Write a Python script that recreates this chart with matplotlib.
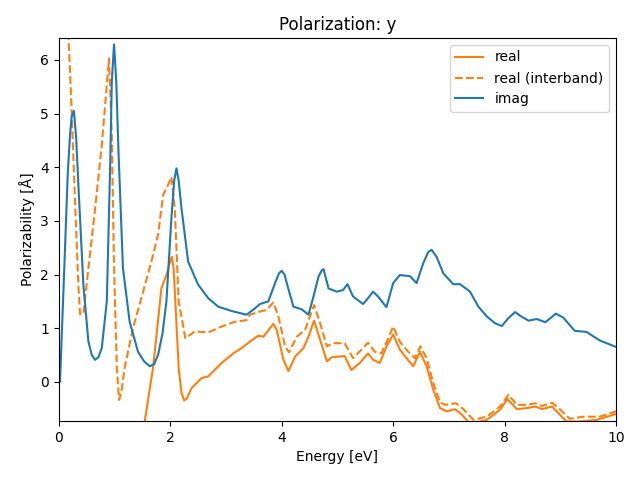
import matplotlib.pyplot as plt

# imaginary part
e_imag = [0.0, 0.02, 0.1, 0.16, 0.2, 0.23, 0.27, 0.31, 0.35, 0.44, 0.53, 0.59, 0.65, 0.71,
          0.77, 0.86, 0.92, 0.95, 0.99, 1.03, 1.07, 1.15, 1.27, 1.42, 1.53, 1.63, 1.71,
          1.78, 1.86, 1.93, 2.02, 2.07, 2.11, 2.15, 2.20, 2.32, 2.50,
          2.68, 2.86, 3.10, 3.37, 3.52, 3.61, 3.76, 3.88, 3.95, 4.00, 4.05, 4.09, 4.21, 4.36,
          4.48, 4.57, 4.66, 4.72, 4.75, 4.84, 4.99, 5.10, 5.18, 5.28, 5.46, 5.55, 5.64,
          5.73, 5.88, 6.00, 6.12, 6.30, 6.42, 6.54, 6.63, 6.69, 6.78, 6.90, 7.08, 7.20,
          7.38, 7.53, 7.68, 7.83, 7.95, 8.07, 8.19, 8.28, 8.43, 8.58, 8.73, 8.92,
          9.05, 9.26, 9.47, 9.71, 10.0]
v_imag = [0.0, 0.0, 2.2, 3.9, 4.6, 4.95, 5.05, 4.55, 3.67, 1.8, 0.75, 0.5, 0.41, 0.46,
          0.63, 1.5, 4.0, 5.6, 6.29, 5.6, 4.29, 2.12, 1.12, 0.56, 0.38, 0.29, 0.33,
          0.50, 0.9, 1.50, 3.05, 3.75, 3.98, 3.75, 3.24, 2.24, 1.81,
          1.56, 1.40, 1.32, 1.25, 1.37, 1.45, 1.50, 1.84, 2.02, 2.07, 2.0, 1.84, 1.40, 1.35,
          1.25, 1.59, 1.96, 2.08, 2.10, 1.74, 1.68, 1.71, 1.82, 1.59, 1.45, 1.56, 1.68,
          1.59, 1.39, 1.84, 1.99, 1.97, 1.84, 2.21, 2.42, 2.46, 2.33, 2.02, 1.82, 1.82,
          1.68, 1.40, 1.22, 1.09, 1.04, 1.19, 1.30, 1.23, 1.14, 1.17, 1.11, 1.27,
          1.20, 0.95, 0.93, 0.77, 0.65]

# real part
e_real = [0.05, 0.6, 1.2, 1.54, 1.69, 1.84, 1.93, 2.0, 2.03, 2.06, 2.09, 2.15, 2.20, 2.25,
          2.30, 2.38, 2.56,
          2.68, 2.92, 3.13, 3.28, 3.43, 3.58, 3.67, 3.85, 3.91, 4.03, 4.12, 4.24,
          4.39, 4.48, 4.58, 4.69, 4.81, 4.90, 5.13, 5.25, 5.40, 5.55, 5.64, 5.76,
          5.88, 6.00, 6.12, 6.24, 6.36, 6.48, 6.60, 6.72, 6.84, 6.96, 7.11, 7.23,
          7.38, 7.68, 7.92, 8.05, 8.22, 8.40, 8.55, 8.67, 8.85, 8.96, 9.11, 9.35,
          9.65, 10.0]
v_real = [-30.0, -8.0, -2.5, -0.74, 0.26, 1.74, 1.99, 2.25, 2.33, 2.1, 1.50, 0.26, -0.2, -0.35,
          -0.3, -0.12, 0.07,
          0.10, 0.35, 0.53, 0.63, 0.75, 0.86, 0.84, 1.08, 0.97, 0.41, 0.20, 0.47,
          0.63, 0.84, 1.14, 0.78, 0.38, 0.46, 0.48, 0.22, 0.35, 0.53, 0.41, 0.35,
          0.66, 0.88, 0.60, 0.44, 0.29, 0.56, 0.29, -0.15, -0.49, -0.55, -0.51, -0.61,
          -0.78, -0.71, -0.52, -0.32, -0.51, -0.49, -0.46, -0.51, -0.46, -0.58, -0.74, -0.74,
          -0.71, -0.60]

# real part, interband only
e_inter = [0.08, 0.17, 0.23, 0.29, 0.35, 0.38, 0.44, 0.53, 0.65, 0.77, 0.86, 0.90, 0.95,
           0.99, 1.04, 1.08, 1.12, 1.18, 1.33, 1.48, 1.66, 1.78, 1.87, 1.96, 2.02, 2.08,
           2.15, 2.27, 2.44, 2.68, 2.92, 3.16, 3.37, 3.43, 3.61, 3.73, 3.85, 3.94,
           4.06, 4.13, 4.27, 4.42, 4.58, 4.69, 4.81, 4.92, 5.13, 5.28, 5.43, 5.55,
           5.67, 5.79, 5.91, 6.00, 6.12, 6.27, 6.39, 6.49, 6.60, 6.72, 6.84, 6.93,
           7.13, 7.26, 7.44, 7.68, 7.92, 8.07, 8.22, 8.40, 8.55, 8.67, 8.85, 9.00,
           9.17, 9.41, 9.71, 10.0]
v_inter = [9.0, 6.5, 5.03, 3.36, 1.8, 1.26, 1.26, 2.12, 3.23, 4.41, 5.53, 6.03, 4.6,
           2.12, 0.26, -0.34, -0.2, 0.26, 1.0, 1.56, 2.24, 2.74, 3.48, 3.67, 3.82, 3.23,
           1.50, 0.81, 0.94, 0.92, 1.03, 1.12, 1.15, 1.25, 1.31, 1.34, 1.48, 1.22,
           0.66, 0.55, 0.84, 0.97, 1.43, 1.09, 0.66, 0.72, 0.72, 0.44, 0.60, 0.73,
           0.56, 0.53, 0.81, 1.03, 0.75, 0.56, 0.44, 0.66, 0.44, -0.02, -0.38, -0.43,
           -0.40, -0.51, -0.71, -0.65, -0.46, -0.24, -0.43, -0.43, -0.40, -0.45, -0.39, -0.52,
           -0.69, -0.65, -0.65, -0.55]

plt.figure(figsize=(6.4, 4.8), dpi=100)
plt.plot(e_real, v_real, color='C1', label='real')
plt.plot(e_inter, v_inter, color='C1', linestyle='--', label='real (interband)')
plt.plot(e_imag, v_imag, color='C0', label='imag')
plt.xlim(0, 10)
plt.ylim(-0.73, 6.41)
plt.xlabel('Energy [eV]')
plt.ylabel('Polarizability [Å]')
plt.title('Polarization: y')
plt.legend(loc='upper right')
plt.subplots_adjust(left=0.092, right=0.9625, top=0.921, bottom=0.123)
plt.savefig('out.png')
